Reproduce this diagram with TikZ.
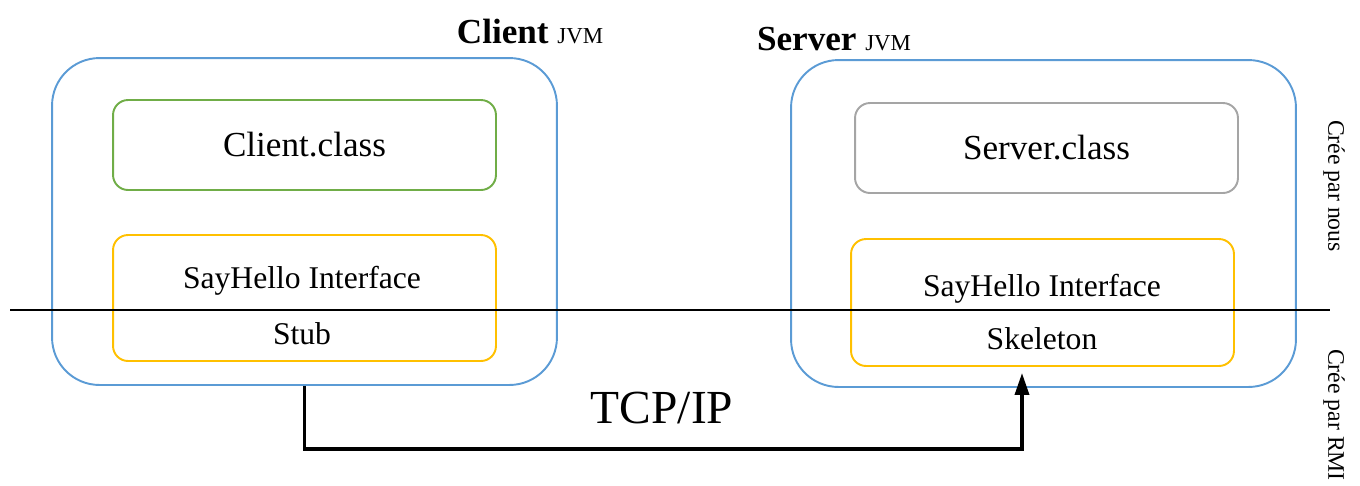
\documentclass[tikz,border=0pt]{standalone}
\usepackage{fontspec}
\setmainfont{Liberation Serif}
\usetikzlibrary{arrows.meta}
\definecolor{jvmblue}{RGB}{91,155,213}
\definecolor{classgreen}{RGB}{112,173,71}
\definecolor{classgray}{RGB}{165,165,165}
\definecolor{stubyellow}{RGB}{255,192,0}
\begin{document}
\begin{tikzpicture}[x=0.02cm,y=-0.02cm,
  jvm/.style={draw=jvmblue,line width=1.1pt,rounded corners=0.95cm,minimum width=10.1cm,minimum height=6.54cm,inner sep=0pt},
  classbox/.style={draw,line width=1.1pt,rounded corners=0.3cm,minimum width=7.66cm,minimum height=1.8cm,inner sep=0pt,font=\fontsize{20}{24}\selectfont},
  stubbox/.style={draw=stubyellow,line width=1.1pt,rounded corners=0.3cm,minimum width=7.66cm,inner sep=0pt},
  lbl/.style={font=\fontsize{18}{22}\selectfont,inner sep=0pt},
  side/.style={rotate=-90,font=\fontsize{13.5}{16}\selectfont,inner sep=0pt}]
\useasboundingbox (0,0) rectangle (1360,485);
\node[jvm] (cjvm) at (304.5,221.5) {};
\node[jvm] (sjvm) at (1043.5,223.5) {};
\node[classbox,draw=classgreen] (cclass) at (304.5,145) {Client.class};
\node[classbox,draw=classgray] (sclass) at (1046.5,148) {Server.class};
\node[stubbox,minimum height=2.52cm] (cstub) at (304.5,298) {};
\node[stubbox,minimum height=2.54cm] (sskel) at (1042.5,302.5) {};
\node[lbl] (cint) at (302,281) {SayHello Interface};
\node[lbl] (stub) at (302,334) {Stub};
\node[lbl] (sint) at (1042,289) {SayHello Interface};
\node[lbl] (skel) at (1042,339) {Skeleton};
\node[inner sep=0pt] (ctitle) at (530,31) {\fontsize{20}{24}\selectfont\bfseries Client \fontsize{13}{16}\selectfont\mdseries JVM};
\node[inner sep=0pt] (stitle) at (834,39) {\fontsize{20}{24}\selectfont\bfseries Server \fontsize{13}{16}\selectfont\mdseries JVM};
\node[inner sep=0pt,font=\fontsize{27}{32}\selectfont] (tcp) at (662,408) {TCP/IP};
\node[side] (nous) at (1334,186) {Crée par nous};
\node[side] (rmi) at (1334,415) {Crée par RMI};
\coordinate (lleft) at (10,310);
\coordinate (lright) at (1330,310);
\coordinate (bend) at (1022,449);
\draw[line width=1.5pt] (lleft) -- (lright);
\draw[line width=2pt,-{Triangle[length=0.44cm,width=0.28cm]},shorten >=0.12cm] (cjvm.south) |- (bend) -- (bend |- sskel.south);
\end{tikzpicture}
\end{document}
